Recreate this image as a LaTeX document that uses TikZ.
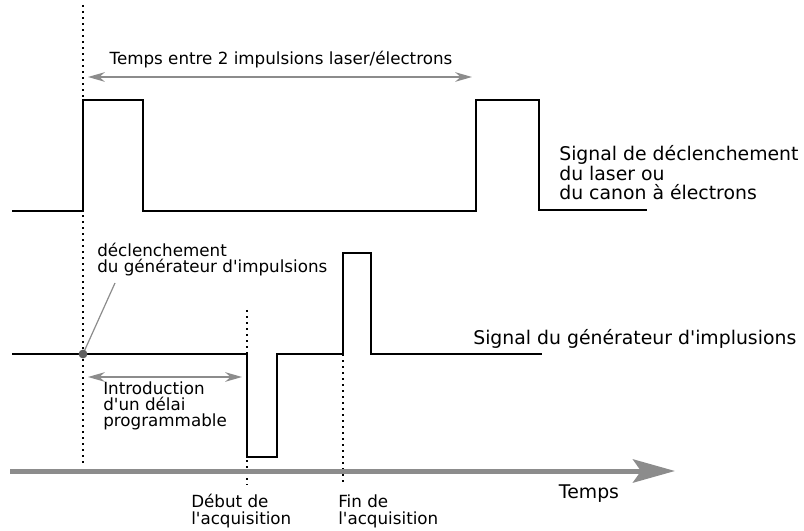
\documentclass[tikz,border=0pt]{standalone}
\usepackage{fontspec}
\newfontfamily\texte{DejaVu Sans}
\usetikzlibrary{arrows.meta}
\usetikzlibrary{positioning}

\definecolor{gris}{RGB}{140,140,140}
\definecolor{grisfonce}{RGB}{95,95,95}

\tikzset{
  signal/.style={draw=black,line width=0.5mm,line join=miter},
  repere/.style={draw=black,line width=0.5mm,dash pattern=on 0.5mm off 1mm},
  duree/.style={draw=gris,line width=0.5mm,{Stealth[length=4.2mm,width=2.4mm]}-{Stealth[length=4.2mm,width=2.4mm]}},
  etiquette/.style={font=\texte\fontsize{11.9}{11.4}\selectfont,inner sep=0pt,align=left},
  grande/.style={font=\texte\fontsize{13.4}{13.9}\selectfont,inner sep=0pt,align=left},
}

\begin{document}
\begin{tikzpicture}[x=0.025cm,y=-0.025cm]
\useasboundingbox (0,0) rectangle (804,531);

% reperes verticaux
\coordinate (declenche) at (83,354);
\coordinate (debut) at (247,354);
\coordinate (fin) at (343,354);
\draw[repere] (83,5) -- (83,465);
\draw[repere] (247,310) -- (247,485);
\draw[repere] (fin) -- (343,485);

% signal laser / canon
\draw[signal] (12,211) -- (83,211) -- (83,100) -- (143,100) -- (143,211) -- (476,211) -- (476,100) -- (539,100) -- (539,210) -- (647,210);
\node[grande,anchor=base west] (sigLaser) at (559,200) {Signal de déclenchement\\du laser ou\\du canon à électrons};

% temps entre impulsions
\coordinate (impA) at (88,77);
\coordinate (impB) at (472,77);
\draw[duree] (impA) -- (impB);
\node[etiquette,anchor=base] (tempsEntre) at (281,65) {Temps entre 2 impulsions laser/électrons};

% signal du generateur
\draw[signal] (12,354) -- (debut) -- (247,457) -- (277,457) -- (277,354) -- (fin) -- (343,253) -- (371,253) -- (371,354) -- (542,354);
\node[grande,anchor=base west] (sigGene) at (473,345) {Signal du générateur d'implusions};

% declenchement du generateur
\node[etiquette,anchor=base west] (declGene) at (97,273) {déclenchement\\du générateur d'impulsions};
\coordinate (declPied) at (115,283);
\draw[gris,line width=0.3mm] (declenche) -- (declPied);
\fill[grisfonce] (declenche) circle[radius=1.1mm];

% delai programmable
\coordinate (delaiA) at (88,377);
\coordinate (delaiB) at (242,377);
\draw[duree] (delaiA) -- (delaiB);
\node[etiquette,anchor=base west] (delai) at (103,427) {Introduction\\d'un délai\\programmable};

% axe du temps
\coordinate (axeA) at (10,471);
\coordinate (axeB) at (675,471);
\draw[gris,line width=1.25mm,-{Stealth[length=10.5mm,width=5.8mm,inset=2mm]}] (axeA) -- (axeB);
\node[grande,anchor=base] (temps) at (589,498) {Temps};
\node[etiquette,anchor=base west] (debutAcq) at (191,524) {Début de\\l'acquisition};
\node[etiquette,anchor=base west] (finAcq) at (338,524) {Fin de\\l'acquisition};

\end{tikzpicture}
\end{document}
